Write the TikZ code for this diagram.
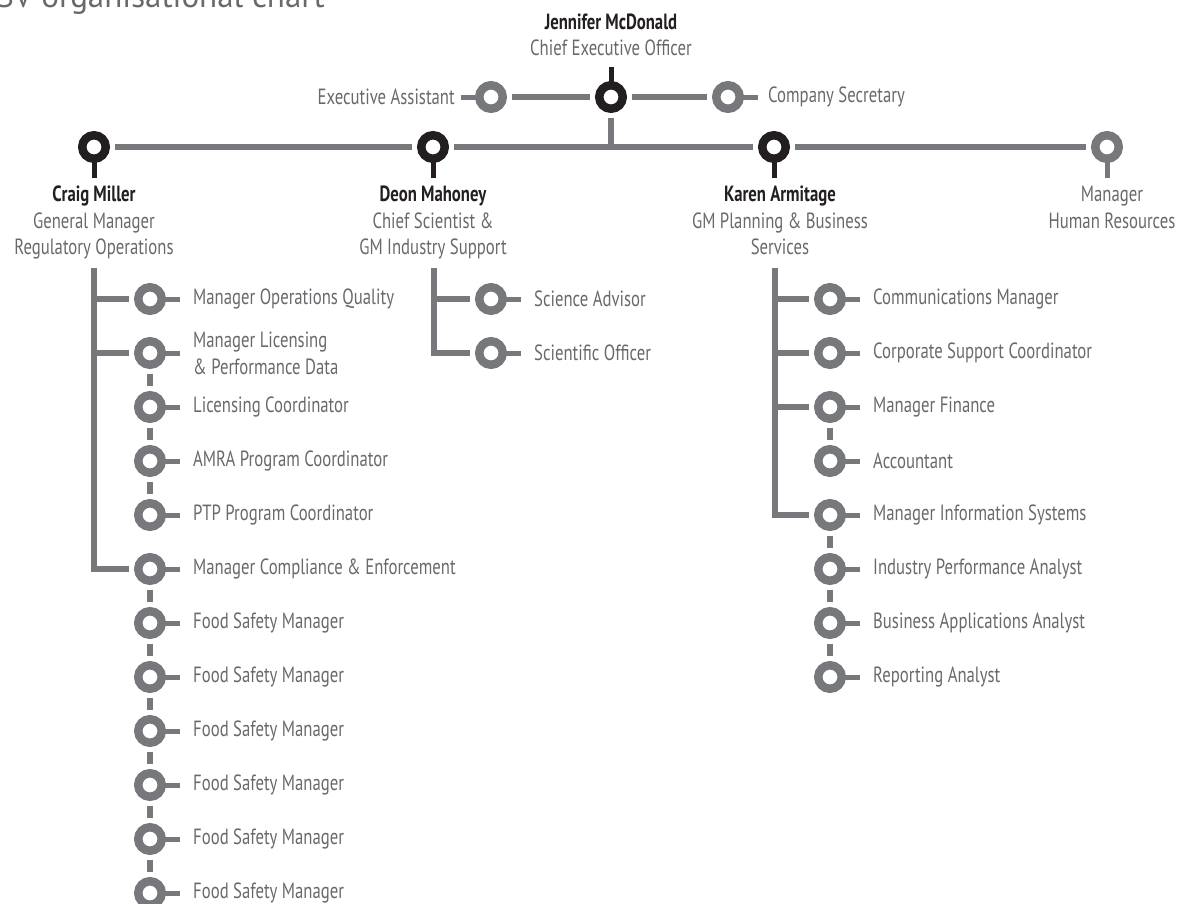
\documentclass[tikz,border=0pt]{standalone}
\usepackage{fontspec}
\setmainfont[FakeStretch=0.76]{PT Sans}
\newfontfamily\titlefont{PT Sans}
\usetikzlibrary{positioning}

\definecolor{ink}{RGB}{35,31,32}
\definecolor{grey}{RGB}{119,120,123}
\definecolor{txtgrey}{RGB}{104,105,108}

\tikzset{
 ring/.style={circle,draw=#1,fill=white,line width=8.5pt,minimum size=23.5pt,
   inner sep=0pt,outer sep=9.5pt},
 boss/.style={ring=ink},
 kid/.style={ring=grey},
 link/.style={draw=grey,line width=6pt},
 trunk/.style={draw=grey,line width=5.5pt},
 stub/.style={draw=#1,line width=5pt},
 lbl/.style={font=\fontsize{22}{27}\selectfont,text=txtgrey,inner sep=0pt,align=left},
 who/.style={font=\fontsize{22}{26.5}\selectfont,text=txtgrey,inner sep=0pt,align=center}
}

\begin{document}
\begin{tikzpicture}[x=1pt,y=-1pt,on grid,node distance=54pt]
 \useasboundingbox (0,0) rectangle (1187,903);
 \node[anchor=base east,font=\titlefont\fontsize{33}{36}\selectfont,text=txtgrey,inner sep=0pt]
   (title) at (325,7) {SV organisational chart};

 % top row
 \node[boss] (ceo) at (611,97) {};
 \node[kid] (ea) [left=120pt of ceo] {};
 \node[kid] (cs) [right=117pt of ceo] {};
 \node[who,anchor=south] (ceo_t) at (611,56) {{\bfseries\color{ink}Jennifer McDonald}\\Chief Executive Officer};
 \node[lbl,anchor=east] (ea_t) at (455,97) {Executive Assistant};
 \node[lbl,anchor=west] (cs_t) at (768,97) {Company Secretary};

 % general managers
 \node[boss] (craig) at (94,147) {};
 \node[boss] (deon) at (433,147) {};
 \node[boss] (karen) at (774,147) {};
 \node[kid] (hr) at (1107,147) {};
 \node[who,anchor=north] (craig_t) at (94,186) {{\bfseries\color{ink}Craig Miller}\\General Manager\\Regulatory Operations};
 \node[who,anchor=north] (deon_t) at (433,186) {{\bfseries\color{ink}Deon Mahoney}\\Chief Scientist \&\\GM Industry Support};
 \node[who,anchor=north] (karen_t) at (780,186) {{\bfseries\color{ink}Karen Armitage}\\GM Planning \& Business\\Services};
 \node[who,anchor=north] (hr_t) at (1112,186) {Manager\\Human Resources};

 % regulatory operations
 \node[kid] (oq) at (150,299) {};
 \node[kid] (lic) [below=of oq] {};
 \node[kid] (lco) [below=of lic] {};
 \node[kid] (amra) [below=of lco] {};
 \node[kid] (ptp) [below=of amra] {};
 \node[kid] (mce) [below=of ptp] {};
 \node[kid] (fsm1) [below=of mce] {};
 \node[kid] (fsm2) [below=of fsm1] {};
 \node[kid] (fsm3) [below=of fsm2] {};
 \node[kid] (fsm4) [below=of fsm3] {};
 \node[kid] (fsm5) [below=of fsm4] {};
 \node[kid] (fsm6) [below=of fsm5] {};

 % industry support
 \node[kid] (sa) at (491,299) {};
 \node[kid] (so) [below=of sa] {};

 % planning and business services
 \node[kid] (comm) at (830,299) {};
 \node[kid] (corp) [below=of comm] {};
 \node[kid] (fin) [below=of corp] {};
 \node[kid] (acc) [below=of fin] {};
 \node[kid] (mis) [below=of acc] {};
 \node[kid] (ipa) [below=of mis] {};
 \node[kid] (baa) [below=of ipa] {};
 \node[kid] (rep) [below=of baa] {};

 % labels
 \foreach \n/\t in {oq/Manager Operations Quality,lco/Licensing Coordinator,
   amra/AMRA Program Coordinator,ptp/PTP Program Coordinator,
   mce/Manager Compliance \& Enforcement,fsm1/Food Safety Manager,
   fsm2/Food Safety Manager,fsm3/Food Safety Manager,fsm4/Food Safety Manager,
   fsm5/Food Safety Manager,fsm6/Food Safety Manager,
   sa/Science Advisor,so/Scientific Officer,
   comm/Communications Manager,corp/Corporate Support Coordinator,
   fin/Manager Finance,acc/Accountant,mis/Manager Information Systems,
   ipa/Industry Performance Analyst,baa/Business Applications Analyst,
   rep/Reporting Analyst}
   \node[lbl,right=43pt of \n,anchor=west] (\n_t) {\t};
 \node[lbl,right=43pt of lic,anchor=west] (lic_t) {Manager Licensing\\\& Performance Data};

 % stubs
 \draw[stub=ink] (ceo.center) ++(0,-15) -- ++(0,-15);
 \foreach \n in {craig,deon,karen} \draw[stub=ink] (\n.center) ++(0,15) -- ++(0,16);
 \draw[stub=grey] (hr.center) ++(0,15) -- ++(0,16);
 \draw[stub=grey] (ea.center) ++(-15,0) -- ++(-15,0);
 \draw[stub=grey] (cs.center) ++(15,0) -- ++(15,0);
 \foreach \n in {oq,lic,lco,amra,ptp,mce,fsm1,fsm2,fsm3,fsm4,fsm5,fsm6,
   sa,so,comm,corp,fin,acc,mis,ipa,baa,rep}
   \draw[stub=grey] (\n.center) ++(15,0) -- ++(15,0);

 % connectors
 \path[link] (ea) -- (ceo) (ceo) -- (cs)
   (craig) -- (deon) (deon) -- (karen) (karen) -- (hr)
   (ceo) -- (ceo |- deon);
 \coordinate (craig_b) at (94,268);
 \coordinate (deon_b) at (434,268);
 \coordinate (karen_b) at (775,268);
 \path[trunk] (craig_b) |- (mce) (craig_b |- oq) -- (oq) (craig_b |- lic) -- (lic);
 \path[trunk] (deon_b) |- (so) (deon_b |- sa) -- (sa);
 \path[trunk] (karen_b) |- (mis) (karen_b |- comm) -- (comm)
   (karen_b |- corp) -- (corp) (karen_b |- fin) -- (fin);
 \foreach \a/\b in {lic/lco,lco/amra,amra/ptp,mce/fsm1,fsm1/fsm2,fsm2/fsm3,
   fsm3/fsm4,fsm4/fsm5,fsm5/fsm6,fin/acc,mis/ipa,ipa/baa,baa/rep}
   \path[trunk] (\a) -- (\b);
\end{tikzpicture}
\end{document}
